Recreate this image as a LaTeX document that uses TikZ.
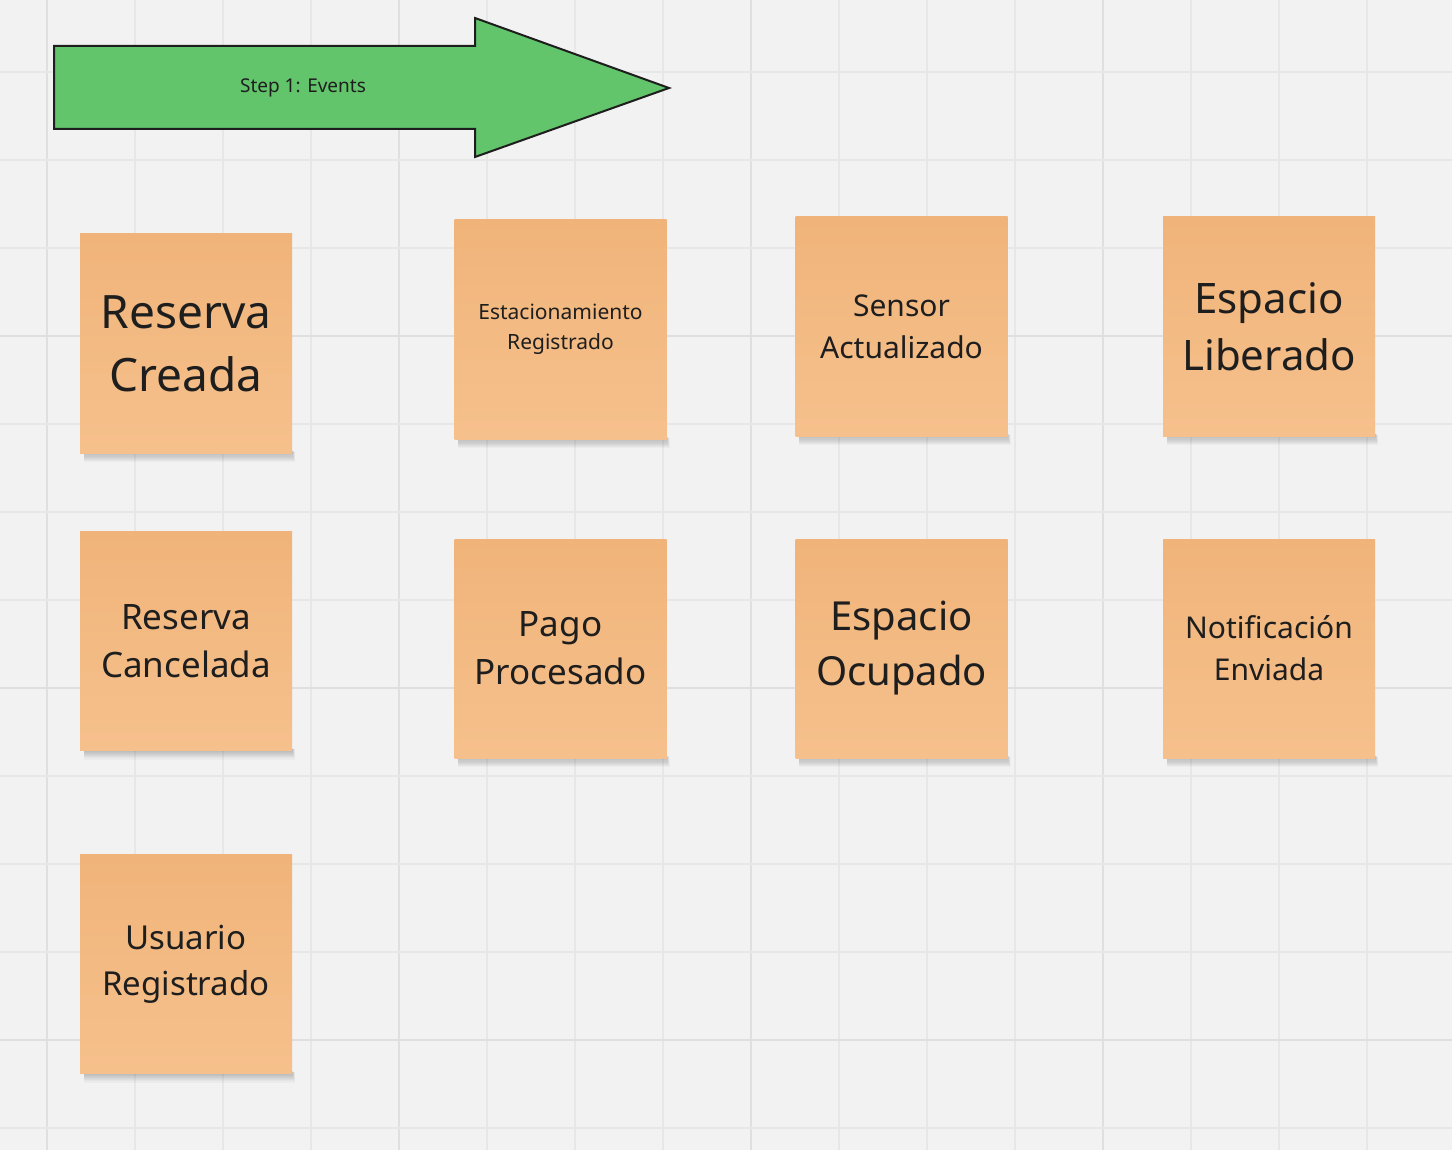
\documentclass[tikz,border=0pt]{standalone}
\usepackage{fontspec}
\setmainfont{Noto Sans}
\definecolor{bgcol}{HTML}{F2F2F2}
\definecolor{gridminor}{HTML}{E7E7E7}
\definecolor{gridmajor}{HTML}{DFDFDF}
\definecolor{stickytop}{HTML}{F0B47A}
\definecolor{stickybot}{HTML}{F6C08C}
\definecolor{inkcol}{HTML}{1E1E1E}
\definecolor{arrowgreen}{HTML}{62C46B}
\pgfdeclarelayer{back}
\pgfdeclarelayer{shade}
\pgfsetlayers{back,shade,main}
\tikzset{
  sticky/.style={minimum width=212pt, minimum height=219pt, inner sep=0pt,
    top color=stickytop, bottom color=stickybot, draw=none,
    align=center, text=inkcol},
  shadowpiece/.style={fill=black, fill opacity=0.028, draw=none},
}
\begin{document}
\begin{tikzpicture}[x=1pt,y=-1pt]
\useasboundingbox (0,0) rectangle (1452,1150);
\begin{pgfonlayer}{back}
\fill[bgcol] (0,0) rectangle (1452,1150);
% grid
\foreach \i in {0,...,16}{
  \pgfmathsetmacro{\gx}{47+88*\i}
  \pgfmathtruncatemacro{\m}{mod(\i,4)}
  \ifnum\m=0
    \draw[gridmajor, line width=2pt] (\gx,0) -- (\gx,1150);
  \else
    \draw[gridminor, line width=1.6pt] (\gx,0) -- (\gx,1150);
  \fi
}
\foreach \j in {0,...,12}{
  \pgfmathsetmacro{\gy}{72+88*\j}
  \pgfmathtruncatemacro{\m}{mod(\j,4)}
  \ifnum\m=3
    \draw[gridmajor, line width=2pt] (0,\gy) -- (1452,\gy);
  \else
    \draw[gridminor, line width=1.6pt] (0,\gy) -- (1452,\gy);
  \fi
}
\end{pgfonlayer}
% step arrow
\draw[fill=arrowgreen, draw=inkcol, line width=2pt, line join=miter]
  (54,46) -- (475,46) -- (475,18) -- (669,88) -- (475,157) -- (475,129) -- (54,129) -- cycle;
\node[text=inkcol, font=\fontsize{19}{24}\selectfont] (steplabel) at (303,87.5) {Step 1: Events};
% stickies
\node[sticky, font=\fontsize{46}{63}\selectfont] (n1) at (186,343.5) {Reserva\\Creada};
\node[sticky, font=\fontsize{21}{30}\selectfont] (n2) at (560.5,329.5) {Estacionamiento\\Registrado};
\node[sticky, font=\fontsize{30}{42}\selectfont] (n3) at (901.5,326.5) {Sensor\\Actualizado};
\node[sticky, font=\fontsize{42}{57}\selectfont] (n4) at (1269,326.5) {Espacio\\Liberado};
\node[sticky, font=\fontsize{35}{48}\selectfont] (n5) at (186,641) {Reserva\\Cancelada};
\node[sticky, font=\fontsize{35}{48}\selectfont] (n6) at (560.5,648.5) {Pago\\Procesado};
\node[sticky, font=\fontsize{40}{55}\selectfont] (n7) at (901.5,648.5) {Espacio\\Ocupado};
\node[sticky, font=\fontsize{30}{42}\selectfont] (n8) at (1269,648.5) {Notificación\\Enviada};
\node[sticky, font=\fontsize{33}{46}\selectfont] (n9) at (186,964) {Usuario\\Registrado};
% soft shadows under the stickies
\begin{pgfonlayer}{shade}
\foreach \n in {n1,n2,n3,n4,n5,n6,n7,n8,n9}{
  \foreach \k in {1,...,8}{
    \path[shadowpiece] ([xshift=4pt, yshift={3pt-0.2*\k pt}]\n.south west) rectangle ([xshift={0.35*\k pt}, yshift={-1.1*\k pt}]\n.south east);
  }
}
\end{pgfonlayer}
\end{tikzpicture}
\end{document}
